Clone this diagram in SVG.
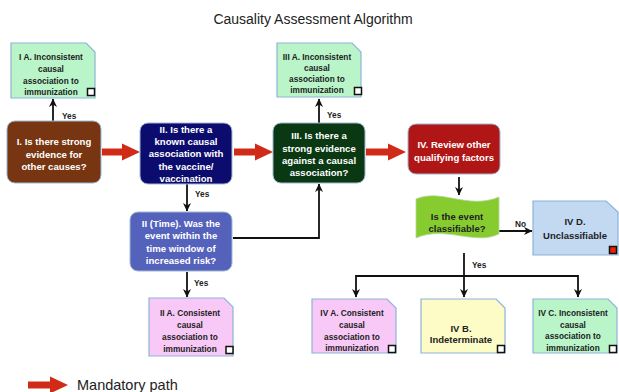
<svg xmlns="http://www.w3.org/2000/svg" width="619" height="392" viewBox="0 0 619 392">
<defs>
<style>
.t{font-family:"Liberation Sans",Arial,sans-serif;}
.title{font-size:14px;fill:#222;}
.legend{font-size:14.5px;fill:#222;}
.nw{font-size:9.6px;font-weight:bold;fill:#fff;text-anchor:middle;}
.nb{font-size:8.3px;font-weight:bold;fill:#222;text-anchor:middle;}
.nbl{font-size:9.5px;font-weight:bold;fill:#222;text-anchor:middle;}
.lbl{font-size:8.3px;font-weight:bold;fill:#222;}
.card{stroke:#8db3d9;stroke-width:1.2;}
.dark{stroke:#9fb8d0;stroke-width:1;}
.sq{fill:#fff;stroke:#111;stroke-width:1.5;}
.conn{fill:none;stroke:#111;stroke-width:1.8;}
.red{fill:#d02a18;}
</style>
<marker id="ah" markerWidth="9" markerHeight="9" refX="8" refY="4.5" orient="auto" markerUnits="userSpaceOnUse">
<path d="M0,0.5 L8.5,4.5 L0,8.5 L2.5,4.5 Z" fill="#111"/>
</marker>
</defs>

<text class="t title" x="313" y="24" text-anchor="middle">Causality Assessment Algorithm</text>

<g id="connectors">
<path class="conn" d="M53,121 V99" marker-end="url(#ah)"/>
<text class="t lbl" x="62" y="119">Yes</text>
<path class="conn" d="M187,184 V211" marker-end="url(#ah)"/>
<text class="t lbl" x="195" y="197">Yes</text>
<path class="conn" d="M187,272 V297" marker-end="url(#ah)"/>
<text class="t lbl" x="194" y="286">Yes</text>
<path class="conn" d="M233,238 H319 V184" marker-end="url(#ah)"/>
<path class="conn" d="M319,123 V99" marker-end="url(#ah)"/>
<text class="t lbl" x="327" y="118">Yes</text>
<path class="conn" d="M459,177 V195" marker-end="url(#ah)"/>
<path class="conn" d="M499,231 H532" marker-end="url(#ah)"/>
<text class="t lbl" x="515" y="227">No</text>
<path class="conn" d="M464,253 V297" marker-end="url(#ah)"/>
<path class="conn" d="M356,276 H578"/>
<path class="conn" d="M356,275 V297" marker-end="url(#ah)"/>
<path class="conn" d="M578,275 V297" marker-end="url(#ah)"/>
<text class="t lbl" x="472" y="268">Yes</text>
<path class="red" d="M102,148.5 H122 V143.5 L140,152 L122,160.5 V155.5 H102 Z"/>
<path class="red" d="M234,148.5 H255 V143.5 L273,152 L255,160.5 V155.5 H234 Z"/>
<path class="red" d="M366,148.5 H388 V143.5 L406,152 L388,160.5 V155.5 H366 Z"/>
</g>

<g id="IA">
<path class="card" d="M11,43 H86 L95,52 V98 H11 Z" fill="#b9f5c9"/>
<text class="t nb" x="51" y="59.5">I A. Inconsistent</text>
<text class="t nb" x="51" y="71.5">causal</text>
<text class="t nb" x="51" y="83.5">association to</text>
<text class="t nb" x="51" y="95">immunization</text>
<rect class="sq" x="87.5" y="88.5" width="7" height="7"/>
</g>

<g id="I">
<rect class="dark" x="7" y="121" width="94" height="62" rx="8" fill="#773511"/>
<text class="t nw" x="54" y="145">I. Is there strong</text>
<text class="t nw" x="54" y="157.5">evidence for</text>
<text class="t nw" x="54" y="170">other causes?</text>
</g>

<g id="II">
<rect class="dark" x="140" y="123" width="92" height="61" rx="8" fill="#0c0c6e"/>
<text class="t nw" x="186" y="132.5">II. Is there a</text>
<text class="t nw" x="186" y="144.8">known causal</text>
<text class="t nw" x="186" y="157.2">association with</text>
<text class="t nw" x="186" y="169.6">the vaccine/</text>
<text class="t nw" x="186" y="182">vaccination</text>
</g>

<g id="IITime">
<rect class="dark" x="130" y="212" width="102" height="59" rx="8" fill="#5462bb"/>
<text class="t nw" x="181" y="226.5">II (Time). Was the</text>
<text class="t nw" x="181" y="239">event within the</text>
<text class="t nw" x="181" y="251.5">time window of</text>
<text class="t nw" x="181" y="264">increased risk?</text>
</g>

<g id="IIA">
<path class="card" d="M149,298 H224 L233,307 V356 H149 Z" fill="#f8c9f7"/>
<text class="t nb" x="190" y="316">II A. Consistent</text>
<text class="t nb" x="190" y="328">causal</text>
<text class="t nb" x="190" y="340">association to</text>
<text class="t nb" x="190" y="352">immunization</text>
<rect class="sq" x="226" y="346.5" width="7" height="7"/>
</g>

<g id="IIIA">
<path class="card" d="M277,43 H352 L361,52 V97 H277 Z" fill="#b9f5c9"/>
<text class="t nb" x="317" y="59.5">III A. Inconsistent</text>
<text class="t nb" x="317" y="71">causal</text>
<text class="t nb" x="317" y="82">association to</text>
<text class="t nb" x="317" y="93">immunization</text>
<rect class="sq" x="354.5" y="87.5" width="7" height="7"/>
</g>

<g id="III">
<rect class="dark" x="273" y="123" width="92" height="60" rx="8" fill="#093812"/>
<text class="t nw" x="319" y="139">III. Is there a</text>
<text class="t nw" x="319" y="151.5">strong evidence</text>
<text class="t nw" x="319" y="163.5">against a causal</text>
<text class="t nw" x="319" y="176">association?</text>
</g>

<g id="IV">
<rect class="dark" x="408" y="124" width="92" height="50" rx="8" fill="#b01616"/>
<text class="t nw" x="454" y="148">IV. Review other</text>
<text class="t nw" x="454" y="160.5">qualifying factors</text>
</g>

<g id="classifiable">
<path d="M416,199 C441,188 468,210 499,197 V234 C474,246 446,225 416,238 Z" fill="#86cc2e" stroke="#b9d6a0" stroke-width="0.8"/>
<text class="t nbl" x="457" y="220">Is the event</text>
<text class="t nbl" x="457" y="231.5">classifiable?</text>
</g>

<g id="IVD">
<path class="card" d="M533,201 H606 L618,212 V255 H533 Z" fill="#c3d9f2"/>
<text class="t nbl" x="575" y="225">IV D.</text>
<text class="t nbl" x="575" y="239">Unclassifiable</text>
<rect x="609.5" y="246.5" width="7" height="7" fill="#ee2200" stroke="#111" stroke-width="1.5"/>
</g>

<g id="IVA">
<path class="card" d="M312,299 H387 L396,308 V353 H312 Z" fill="#f8c9f7"/>
<text class="t nb" x="352" y="316">IV A. Consistent</text>
<text class="t nb" x="352" y="328">causal</text>
<text class="t nb" x="352" y="339.5">association to</text>
<text class="t nb" x="352" y="351">immunization</text>
<rect class="sq" x="388.5" y="345.5" width="7" height="7"/>
</g>

<g id="IVB">
<path class="card" d="M421,299 H496 L505,308 V353 H421 Z" fill="#fdfbc6"/>
<text class="t nbl" x="461" y="332">IV B.</text>
<text class="t nbl" x="461" y="343">Indeterminate</text>
<rect class="sq" x="497.5" y="345.5" width="7" height="7"/>
</g>

<g id="IVC">
<path class="card" d="M533,299 H608 L617,308 V353 H533 Z" fill="#b9f5c9"/>
<text class="t nb" x="573" y="316">IV C. Inconsistent</text>
<text class="t nb" x="573" y="327.5">causal</text>
<text class="t nb" x="573" y="339">association to</text>
<text class="t nb" x="573" y="350.5">immunization</text>
<rect class="sq" x="609.5" y="345.5" width="7" height="7"/>
</g>

<g id="legend">
<path class="red" d="M28,381.5 H50 V376.5 L68,385 L50,393.5 V388.5 H28 Z"/>
<text class="t legend" x="77" y="390">Mandatory path</text>
</g>
</svg>
